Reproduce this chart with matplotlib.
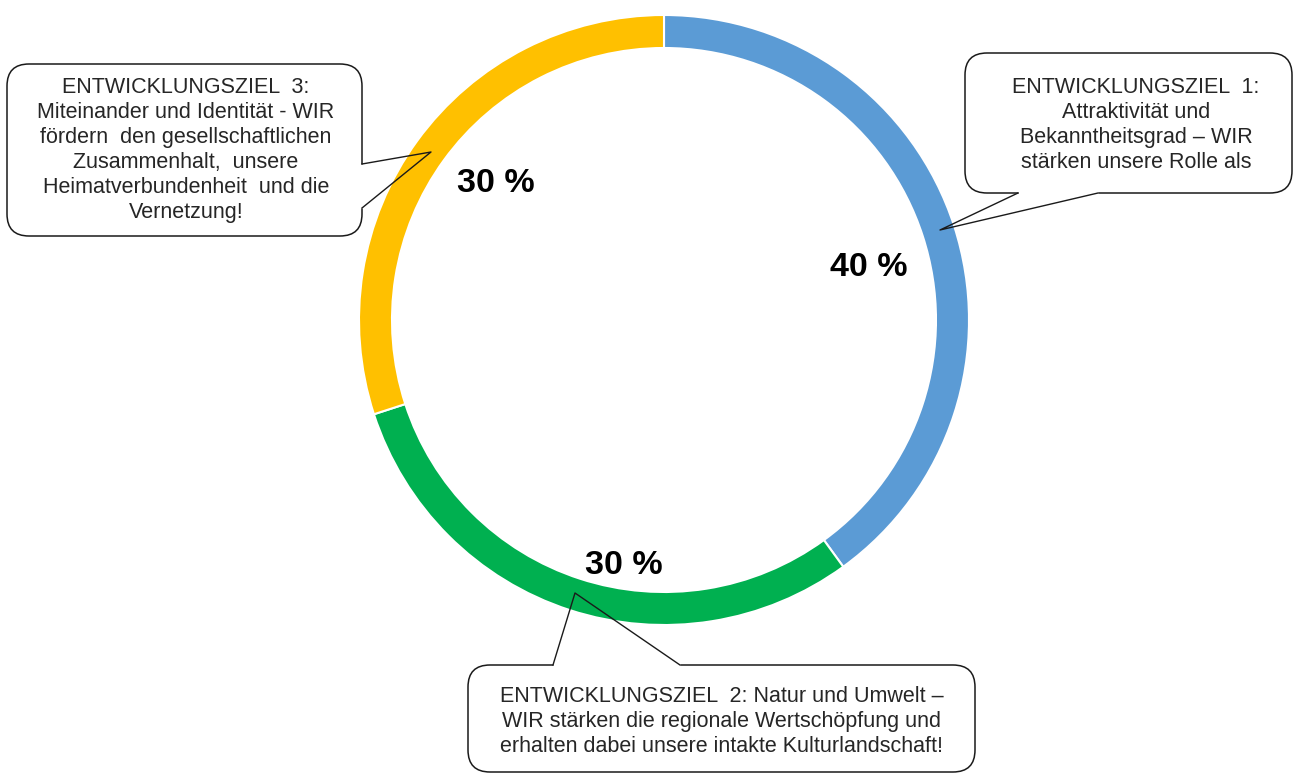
import matplotlib.pyplot as plt
from matplotlib.patches import FancyBboxPatch

plt.rcParams['font.family'] = ['Liberation Sans', 'DejaVu Sans']

W, H = 1295, 774

# data
shares = [40, 30, 30]
pct_labels = ['40 %', '30 %', '30 %']
colors = ['#5B9BD5', '#00B050', '#FFC000']
goal_texts = [
    'ENTWICKLUNGSZIEL  1:\nAttraktivität und\nBekanntheitsgrad – WIR\nstärken unsere Rolle als',
    'ENTWICKLUNGSZIEL  2: Natur und Umwelt –\nWIR stärken die regionale Wertschöpfung und\nerhalten dabei unsere intakte Kulturlandschaft!',
    'ENTWICKLUNGSZIEL  3:\nMiteinander und Identität - WIR\nfördern  den gesellschaftlichen\nZusammenhalt,  unsere\nHeimatverbundenheit  und die\nVernetzung!',
]

# layout (pixel coords, y from top)
cx, cy, R, ring = 664, 320, 305, 33
pct_pos = [(869, 268), (624, 566), (496, 183)]
# box (x0, y0, x1, y1), pointer base a, base b, tip, text centre
callouts = [
    ((965, 53, 1292, 193), (1018, 193), (1098, 193), (940, 230), (1136, 125)),
    ((468, 665, 975, 772), (553, 665), (680, 665), (575, 593), (722, 722)),
    ((7, 64, 362, 236), (362, 164), (362, 208), (431, 152), (186, 150)),
]

fig = plt.figure(figsize=(W / 100, H / 100), dpi=100)
ax = fig.add_axes([0, 0, 1, 1])

ax.pie(shares, colors=colors, startangle=90, counterclock=False,
       radius=R, center=(cx, H - cy),
       wedgeprops=dict(width=ring, edgecolor='white', linewidth=1.5))

for lab, (x, y) in zip(pct_labels, pct_pos):
    ax.text(x, H - y, lab, ha='center', va='center', fontsize=24.5,
            fontweight='bold', color='black')

for txt, (box, a, b, tip, tc) in zip(goal_texts, callouts):
    x0, y0, x1, y1 = box
    ax.add_patch(FancyBboxPatch((x0, H - y1), x1 - x0, y1 - y0,
                                boxstyle='round,pad=0,rounding_size=22',
                                fc='white', ec='#1a1a1a', lw=1.1, zorder=3))
    # open the border where the pointer starts
    ax.plot([a[0], b[0]], [H - a[1], H - b[1]], color='white', lw=2.5,
            zorder=4, solid_capstyle='butt')
    ax.plot([a[0], tip[0], b[0]], [H - a[1], H - tip[1], H - b[1]],
            color='#1a1a1a', lw=1.0, zorder=5)
    ax.text(tc[0], H - tc[1], txt, ha='center', va='center',
            multialignment='center', fontsize=15.5, color='#262626',
            linespacing=1.25, zorder=6)

ax.set_xlim(0, W)
ax.set_ylim(0, H)
ax.set_aspect('auto')
ax.axis('off')

fig.savefig('out.png', dpi=100)
